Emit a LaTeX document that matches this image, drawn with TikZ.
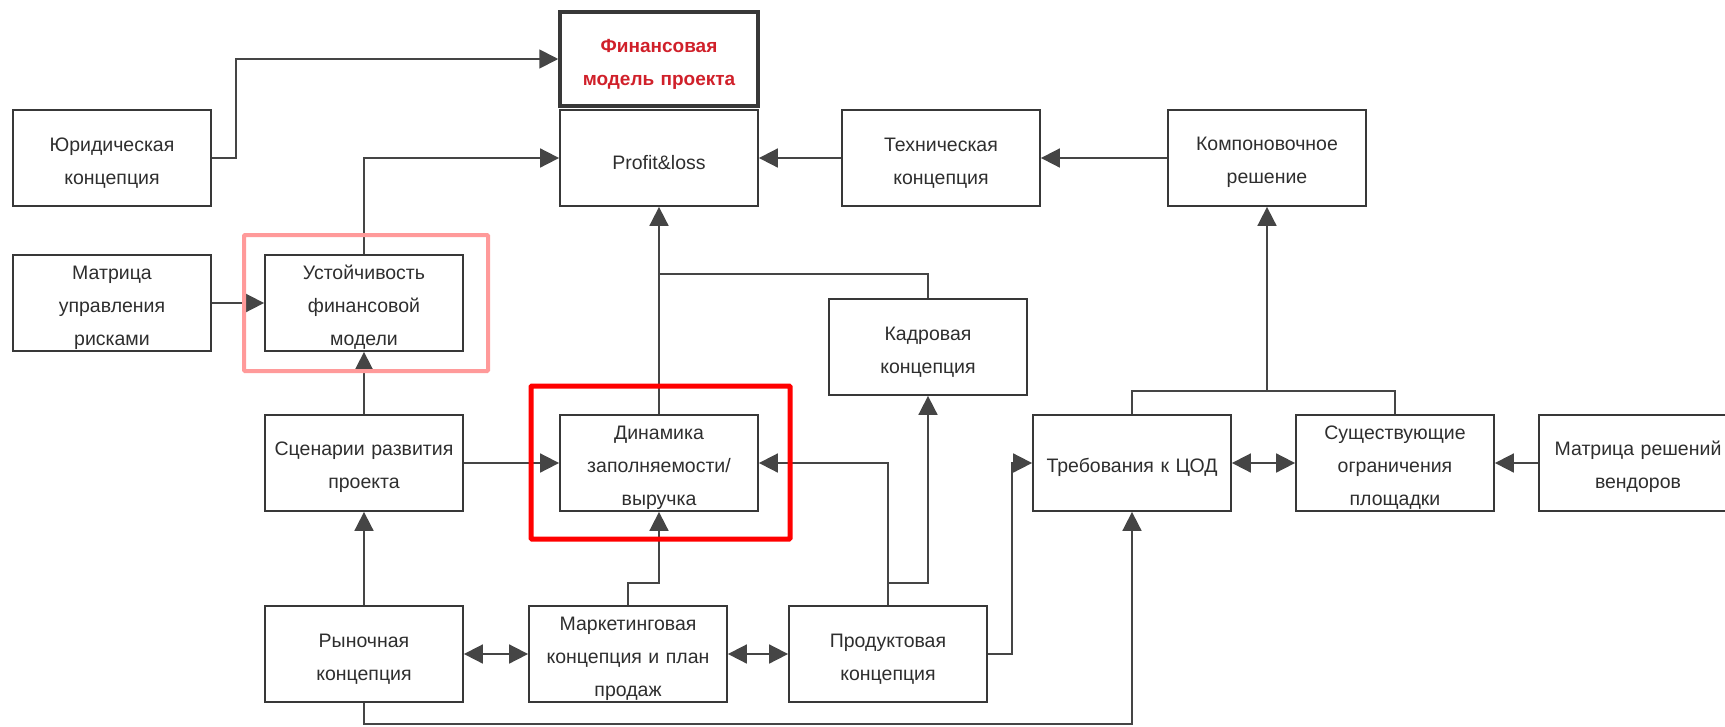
\documentclass[tikz,border=0pt]{standalone}
\usepackage{fontspec}
\setmainfont{Liberation Sans}
\usetikzlibrary{arrows.meta}
\definecolor{boxgray}{HTML}{383838}
\definecolor{linegray}{HTML}{454545}
\definecolor{txtgray}{HTML}{2E2E2E}
\definecolor{finred}{HTML}{D0202A}
\definecolor{pinkframe}{HTML}{FF9A9A}

\begin{document}
\begin{tikzpicture}
  [x=1pt,y=-1pt,
   every node/.style={draw=boxgray,line width=1.8pt,minimum width=198pt,minimum height=96pt,
     inner sep=0pt,text width=196pt,align=center,text=txtgray,font=\fontsize{19.5}{33}\selectfont,
     execute at begin node={\rule{0pt}{23pt}}},
   link/.style={draw=linegray,line width=1.8pt},
   arr/.style={link,-{Triangle[length=19pt,width=19pt]}},
   both/.style={link,{Triangle[length=19pt,width=19pt]}-{Triangle[length=19pt,width=19pt]}}]
  \useasboundingbox (0,0) rectangle (1725,726);

  \node (fin) at (659,59) [minimum height=94pt,line width=3.5pt,text=finred,
    font=\fontsize{19}{33}\selectfont\bfseries] {Финансовая\\модель проекта};
  \node (pl) at (659,158) {Profit\&loss};
  \node (yur) at (112,158) {Юридическая\\концепция};
  \node (tech) at (941,158) {Техническая\\концепция};
  \node (komp) at (1267,158) {Компоновочное\\решение};
  \node (risk) at (112,303) {Матрица\\управления\\рисками};
  \node (ust) at (364,303) {Устойчивость\\финансовой\\модели};
  \node (kadr) at (928,347) {Кадровая\\концепция};
  \node (scen) at (364,463) {Сценарии развития\\проекта};
  \node (din) at (659,463) {Динамика\\заполняемости/\\выручка};
  \node (treb) at (1132,463) {Требования к ЦОД};
  \node (sush) at (1395,463) {Существующие\\ограничения\\площадки};
  \node (vend) at (1638,463) {Матрица решений\\вендоров};
  \node (ryn) at (364,654) {Рыночная\\концепция};
  \node (mark) at (628,654) {Маркетинговая\\концепция и план\\продаж};
  \node (prod) at (888,654) {Продуктовая\\концепция};

  \coordinate (j1) at (659,274);
  \coordinate (j2) at (659,583);
  \coordinate (j3) at (888,583);
  \coordinate (j4) at (1267,391);
  \coordinate (j5) at (1132,724);

  \foreach \from/\to in {tech/pl,komp/tech,risk/ust,scen/ust,din/pl,scen/din,ryn/scen,vend/sush,j4/komp}
    \draw[arr] (\from) -- (\to);
  \foreach \from/\to in {treb/sush,ryn/mark,mark/prod}
    \draw[both] (\from) -- (\to);

  \draw[arr] (yur) -- ++(124,0) |- (fin);
  \draw[arr] (ust) |- (pl);
  \draw[link] (kadr) |- (j1);
  \draw[arr] (mark) |- (j2) -- (din);
  \draw[arr] (prod) |- (din);
  \draw[arr] (j3) -| (kadr);
  \draw[arr] (prod) -- ++(124,0) |- (treb);
  \draw[link] (treb) |- (j4) -| (sush);
  \draw[arr] (ryn) |- (j5) -- (treb);

  \draw[pinkframe,line width=4pt,rounded corners=1pt] (244,235) rectangle (488,371);
  \draw[red,line width=5pt,rounded corners=1pt] (531,386) rectangle (790,539);
\end{tikzpicture}
\end{document}
